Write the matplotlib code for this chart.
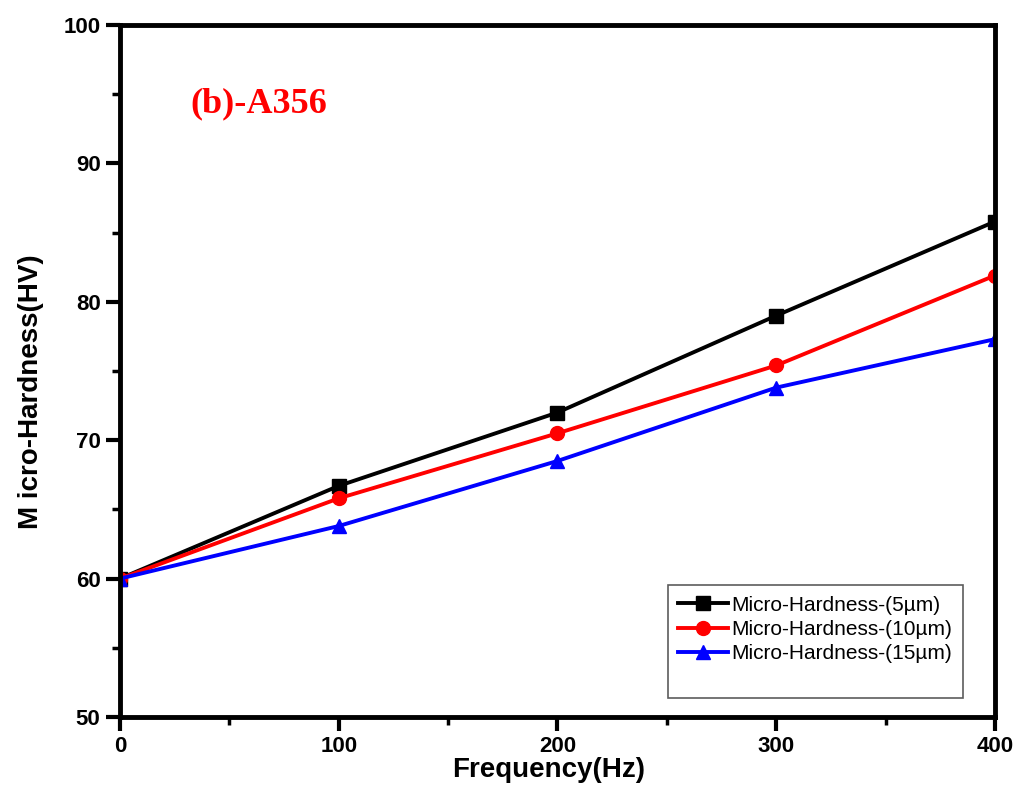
import numpy as np
import matplotlib.pyplot as plt
from matplotlib.ticker import MultipleLocator

plt.rcParams['font.family'] = ['Liberation Sans Narrow', 'Liberation Sans', 'DejaVu Sans']

# 周波数と硬さのデータ
freq = [0, 100, 200, 300, 400]
hv_5um = [60.0, 66.7, 72.0, 79.0, 85.8]
hv_10um = [60.0, 65.8, 70.5, 75.4, 81.9]
hv_15um = [60.0, 63.8, 68.5, 73.8, 77.3]
labels = ['Micro-Hardness-(5µm)', 'Micro-Hardness-(10µm)', 'Micro-Hardness-(15µm)']

fig = plt.figure(figsize=(10.21, 7.93), dpi=100)
ax = fig.add_axes([0.1175, 0.0958, 0.857, 0.8727])

ax.plot(freq, hv_5um, '-s', color='black', lw=2.8, ms=10, label=labels[0])
ax.plot(freq, hv_10um, '-o', color='red', lw=2.8, ms=10, label=labels[1])
ax.plot(freq, hv_15um, '-^', color='blue', lw=2.8, ms=10, label=labels[2])
# 凡例の下の余白用（空の項目）
ax.plot([], [], ' ', label=' ')

ax.set_xlim(0, 400)
ax.set_ylim(50, 100)
ax.xaxis.set_major_locator(MultipleLocator(100))
ax.xaxis.set_minor_locator(MultipleLocator(50))
ax.yaxis.set_major_locator(MultipleLocator(10))
ax.yaxis.set_minor_locator(MultipleLocator(5))

for s in ax.spines.values():
    s.set_linewidth(3.5)
ax.tick_params(which='major', direction='out', length=10, width=3, labelsize=16, pad=4)
ax.tick_params(which='minor', direction='out', length=6, width=2.5)
ax.tick_params(top=False, right=False, which='both')
for t in ax.get_xticklabels() + ax.get_yticklabels():
    t.set_fontweight('bold')

ax.set_xlabel('Frequency(Hz)', fontsize=20, fontweight='bold')
ax.set_ylabel('M icro-Hardness(HV)', fontsize=20, fontweight='bold')
ax.xaxis.set_label_coords(0.49, -0.058)
ax.yaxis.set_label_coords(-0.087, 0.47)

ax.text(0.08, 0.886, '(b)-A356', transform=ax.transAxes, color='red',
        fontsize=26, fontweight='bold', family='Liberation Serif', va='center')

leg = ax.legend(loc='lower right', bbox_to_anchor=(0.963, 0.028), fontsize=15,
                frameon=True, fancybox=False, edgecolor='#333333',
                handlelength=2.4, handletextpad=0.15, labelspacing=0.25,
                borderpad=0.5, borderaxespad=0)
leg.get_frame().set_linewidth(1.2)

fig.savefig('out.png', dpi=100)
